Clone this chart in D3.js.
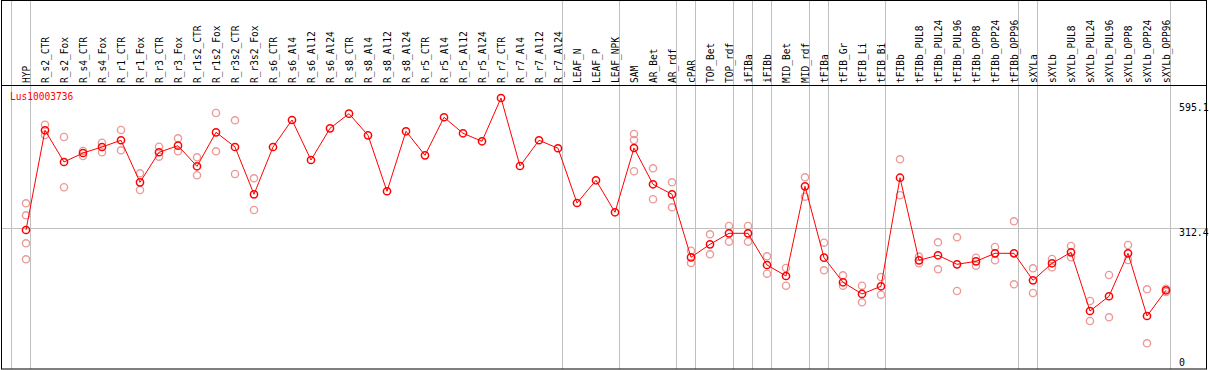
<!DOCTYPE html>
<html>
<head>
<meta charset="utf-8">
<script src="https://cdn.jsdelivr.net/npm/d3@7"></script>
<style>
  html, body { margin: 0; padding: 0; background: #fff; }
  svg { display: block; }
  text { font-family: "DejaVu Sans Mono", "Liberation Mono", monospace; }
</style>
</head>
<body>
<script>
const categories = ["HYP","R_s2_CTR","R_s2_Fox","R_s4_CTR","R_s4_Fox","R_r1_CTR","R_r1_Fox","R_r3_CTR","R_r3_Fox","R_r1s2_CTR","R_r1s2_Fox","R_r3s2_CTR","R_r3s2_Fox","R_s6_CTR","R_s6_Al4","R_s6_Al12","R_s6_Al24","R_s8_CTR","R_s8_Al4","R_s8_Al12","R_s8_Al24","R_r5_CTR","R_r5_Al4","R_r5_Al12","R_r5_Al24","R_r7_CTR","R_r7_Al4","R_r7_Al12","R_r7_Al24","LEAF_N","LEAF_P","LEAF_NPK","SAM","AR_Bet","AR_rdf","cPAR","TOP_Bet","TOP_rdf","iFIBa","iFIBb","MID_Bet","MID_rdf","tFIBa","tFIB_Gr","tFIB_Li","tFIB_Bi","tFIBb","tFIBb_PUL8","tFIBb_PUL24","tFIBb_PUL96","tFIBb_OPP8","tFIBb_OPP24","tFIBb_OPP96","sXYLa","sXYLb","sXYLb_PUL8","sXYLb_PUL24","sXYLb_PUL96","sXYLb_OPP8","sXYLb_OPP24","sXYLb_OPP96"];

const meanValues = [308.1,524.9,456.0,475.5,488.6,503.2,411.8,477.1,491.4,446.6,520.5,488.6,385.7,488.6,547.3,460.3,529.2,561.0,514.0,392.3,522.7,470.5,553.2,518.4,501.0,595.1,447.3,503.2,485.8,366.8,416.2,346.6,486.4,407.5,385.7,248.7,277.0,300.9,300.9,232.0,208.1,403.1,247.9,194.4,169.0,185.7,421.8,242.2,253.1,233.5,240.0,257.4,257.4,198.7,235.7,259.6,132.0,164.0,257.4,121.1,177.0];

const replicateValues = [
  [366.2,340.1,279.2,244.4],
  [537.1,514.7],
  [510.3,401.0],
  [479.9,469.0],
  [497.9,477.1],
  [525.6,481.4],
  [431.4,395.1],
  [489.2,467.5],
  [507.5,479.2],
  [466.2,427.1],
  [562.5,479.2],
  [546.6,429.9],
  [420.5,351.6],
  [],[],[],[],[],[],[],[],[],[],[],[],[],[],[],[],[],[],[],
  [516.8,503.8,435.8],
  [442.3,374.9],
  [411.8,357.5],
  [263.1,236.4],
  [298.8,255.3],
  [316.8,282.7],
  [316.8,282.7],
  [250.9,213.1],
  [225.5,187.0],
  [422.7,380.5],
  [280.5,220.5],
  [209.6,187.0],
  [187.0,150.9],
  [205.9,167.4],
  [461.8,383.6],
  [250.1,235.7],
  [281.4,222.7],
  [292.2,175.5],
  [247.9,230.5],
  [271.1,242.2],
  [327.0,190.0],
  [224.8,171.1],
  [245.1,227.0],
  [273.3,248.7],
  [153.7,110.2],
  [210.3,118.3],
  [275.5,242.9],
  [179.2,61.8],
  [180.5,173.3]
];

const groupEnds = ["HYP","R_r7_Al24","LEAF_NPK","AR_rdf","cPAR","TOP_rdf","iFIBa","iFIBb","MID_rdf","tFIBa","tFIB_Bi","tFIBb_OPP96","sXYLa","sXYLb_OPP96"];
const yTickValues = [595.1, 312.4, 0];
const gridValues = [312.4];
const geneLabel = "Lus10003736";

const W = 1209, H = 370;
const svg = d3.select("body").append("svg").attr("width", W).attr("height", H);

const x = d3.scalePoint().domain(categories).range([26, 1166]);
const step = x.step();
const y = d3.scaleLinear().domain([0, 595.1]).range([371.7, 98]);

// vertical group separators
const sepX = [x(categories[0]) - step + 4].concat(groupEnds.map(c => x(c) + 4));
svg.append("g").selectAll("line").data(sepX).join("line")
  .attr("x1", d => Math.round(d) + 0.5).attr("x2", d => Math.round(d) + 0.5)
  .attr("y1", 0).attr("y2", 369)
  .attr("stroke", "#c0c0c0").attr("stroke-width", 1);

// horizontal gridline
svg.append("g").selectAll("line").data(gridValues).join("line")
  .attr("x1", 1).attr("x2", 1207)
  .attr("y1", d => Math.round(y(d)) + 0.5).attr("y2", d => Math.round(y(d)) + 0.5)
  .attr("stroke", "#c0c0c0").attr("stroke-width", 1);

// frame
svg.append("rect").attr("x", 1.5).attr("y", 0.5).attr("width", 1205).attr("height", 368.5)
  .attr("fill", "none").attr("stroke", "#000").attr("stroke-width", 1);
svg.append("line").attr("x1", 1).attr("x2", 1207).attr("y1", 85.5).attr("y2", 85.5)
  .attr("stroke", "#000").attr("stroke-width", 1);

// column labels
svg.append("g").selectAll("text").data(categories).join("text")
  .attr("transform", d => `translate(${x(d) + 4},83) rotate(-90) scale(0.87,1)`)
  .attr("font-size", 11).attr("fill", "#000")
  .text(d => d);

// gene label
svg.append("text").attr("x", 10).attr("y", 100.5)
  .attr("transform", "translate(10,0) scale(0.87,1) translate(-10,0)")
  .attr("font-size", 11).attr("fill", "#ff0000").text(geneLabel);

// right axis labels
svg.append("g").selectAll("text").data(yTickValues).join("text")
  .attr("x", 1179)
  .attr("y", d => Math.min(Math.max(y(d) + 8, 110.7), 366))
  .attr("font-size", 11).attr("fill", "#000")
  .attr("transform", "translate(1179,0) scale(0.9,1) translate(-1179,0)")
  .text(d => d);

// replicate points
const reps = [];
replicateValues.forEach((arr, i) => arr.forEach(v => reps.push({c: categories[i], v})));
svg.append("g").selectAll("circle").data(reps).join("circle")
  .attr("cx", d => x(d.c)).attr("cy", d => y(d.v)).attr("r", 3.6)
  .attr("fill", "none").attr("stroke", "#eb9a9a").attr("stroke-width", 1.4);

// mean line
const line = d3.line().x((d, i) => x(categories[i])).y(d => y(d));
svg.append("path").datum(meanValues).attr("d", line)
  .attr("fill", "none").attr("stroke", "#ff0000").attr("stroke-width", 1);

// mean points
svg.append("g").selectAll("circle").data(meanValues).join("circle")
  .attr("cx", (d, i) => x(categories[i])).attr("cy", d => y(d)).attr("r", 3.6)
  .attr("fill", "none").attr("stroke", "#ff0000").attr("stroke-width", 1.5);
</script>
</body>
</html>
